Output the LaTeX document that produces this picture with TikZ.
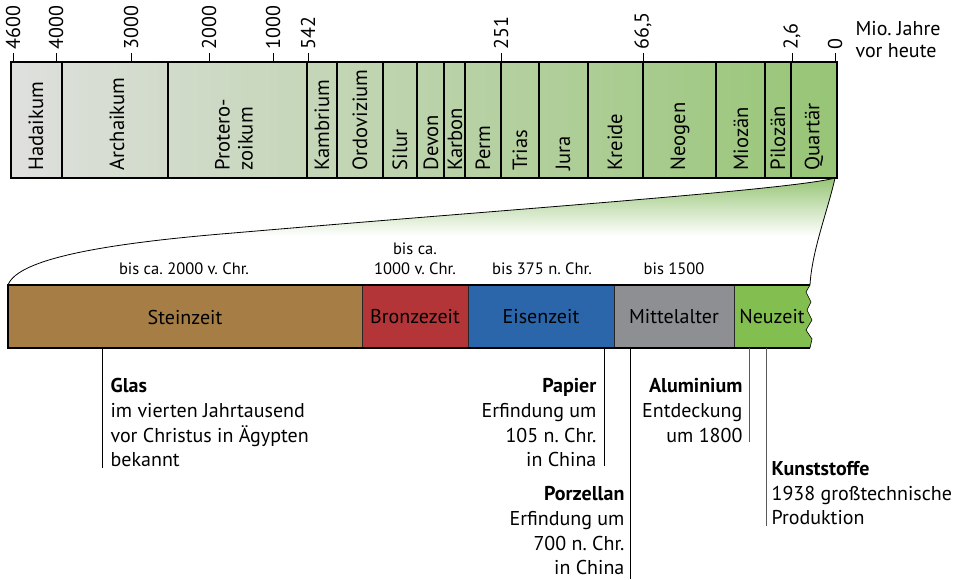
\documentclass[tikz,border=0pt]{standalone}
\usepackage{fontspec}
\setmainfont{PT Sans}
\usepackage{xcolor}
\usepackage{tikz}
\frenchspacing

\definecolor{erdgrau}{HTML}{DFE0DE}
\definecolor{erdmitte}{HTML}{C3DAB4}
\definecolor{erdgruen}{HTML}{97C576}
\definecolor{steinbraun}{HTML}{A67E45}
\definecolor{bronzerot}{HTML}{B33538}
\definecolor{eisenblau}{HTML}{2A66A9}
\definecolor{mittelgrau}{HTML}{8E8F92}
\definecolor{neugruen}{HTML}{82BE50}
\definecolor{strichgrau}{HTML}{5A5A5A}

\tikzset{
  zahl/.style={rotate=90, anchor=west, inner sep=0pt, font=\fontsize{20}{22}\selectfont},
  epoche/.style={rotate=90, anchor=west, inner sep=0pt, align=left, font=\fontsize{20.6}{23}\selectfont},
  zeitraum/.style={inner sep=0pt, font=\fontsize{20}{22}\selectfont},
  bis/.style={inner sep=0pt, align=center, font=\fontsize{16.5}{20}\selectfont},
  notizlinks/.style={anchor=north west, inner sep=0pt, align=left, font=\fontsize{20}{24.6}\selectfont},
  notizrechts/.style={anchor=north east, inner sep=0pt, align=right, font=\fontsize{20}{24.6}\selectfont}
}

\begin{document}
\begin{tikzpicture}[x=1pt, y=-1pt, line width=1.2pt]
    \useasboundingbox (0,0) rectangle (959,579);

    % Trichter (Ausschnitt Quartaer)
    \begin{scope}
        \clip (8,285) .. controls (18,258) and (110,243) .. (233,233)
            .. controls (500,210) and (790,190) .. (835,178)
            .. controls (828,210) and (812,250) .. (810,285) -- cycle;
        \shade[top color=erdgruen, bottom color=white] (0,178) rectangle (840,236);
    \end{scope}
    \draw[line width=0.8pt] (8,285) .. controls (18,258) and (110,243) .. (233,233)
        .. controls (500,210) and (790,190) .. (835,178)
        .. controls (828,210) and (812,250) .. (810,285);

    % Erdzeitalter (oberer Balken)
    \shade[left color=erdgrau, middle color=erdmitte, right color=erdgruen] (11,62) rectangle (837,178);
    \foreach \x in {62,168,307,337,383,417,444,465,501,539,588,643,716,765,791}
    {
        \draw (\x,62) -- (\x,178);
    }
    \draw (11,62) rectangle (837,178);

    % Skala in Mio. Jahren
    \foreach \x/\label [count=\i] in {
        13/4600,
        56/4000,
        131/3000,
        209/2000,
        273/1000,
        308/542,
        501/251,
        643/{66,5},
        792/{2,6},
        835/0
    }
    {
        \draw[line width=0.8pt] (\x,53) -- (\x,62);
        \node[zahl] (skala\i) at (\x,50) {\label};
    }
    \node[anchor=west, inner sep=0pt, align=left, font=\fontsize{20}{22}\selectfont] (einheit) at (855,40) {Mio. Jahre\\vor heute};

    % Namen der Erdzeitalter
    \foreach \x/\name [count=\i] in {
        36/Hadaikum,
        117/Archaikum,
        234/{Protero-\\zoikum},
        322/Kambrium,
        360/Ordovizium,
        400/Silur,
        431/Devon,
        455/Karbon,
        483/Perm,
        520/Trias,
        563/Jura,
        615/Kreide,
        680/Neogen,
        741/Miozän,
        778/Pilozän,
        814/Quartär
    }
    {
        \node[epoche] (epoche\i) at (\x,171) {\name};
    }

    % Menschheitsgeschichte (unterer Balken)
    \foreach \xa/\xb/\farbe/\name in {
        8/362/steinbraun/Steinzeit,
        362/468/bronzerot/Bronzezeit,
        468/614/eisenblau/Eisenzeit,
        614/734/mittelgrau/Mittelalter
    }
    {
        \fill[\farbe] (\xa,285) rectangle (\xb,348);
        \node[zeitraum] (\name) at ({(\xa+\xb)/2},317) {\name};
    }
    \fill[neugruen] (734,285) -- (810,285) -- (806,292) -- (811,302) -- (807,310)
        -- (812,320) -- (806,330) -- (812,339) -- (810,348) -- (734,348) -- cycle;
    \node[zeitraum] (Neuzeit) at (772,317) {Neuzeit};
    \foreach \x in {362,468,614,734}
    {
        \draw[line width=1pt, black!85] (\x,285) -- (\x,348);
    }
    \draw (810,285) -- (8,285) -- (8,348) -- (810,348);
    \draw[line width=0.6pt] (810,285) -- (806,292) -- (811,302) -- (807,310)
        -- (812,320) -- (806,330) -- (812,339) -- (810,348);

    % Zeitangaben ueber dem Balken
    \node[bis] (bis1) at (184,269) {bis ca. 2000 v. Chr.};
    \node[bis] (bis2) at (415,259) {bis ca.\\1000 v. Chr.};
    \node[bis] (bis3) at (542,269) {bis 375 n. Chr.};
    \node[bis] (bis4) at (674,269) {bis 1500};

    % Erfindungen und Entdeckungen
    \coordinate (glasA) at (102,348);
    \coordinate (glasB) at (102,468);
    \coordinate (papierA) at (604,348);
    \coordinate (papierB) at (604,466);
    \coordinate (porzellanA) at (630,348);
    \coordinate (porzellanB) at (630,579);
    \coordinate (aluA) at (749,348);
    \coordinate (aluB) at (749,442);
    \coordinate (kunstA) at (766,348);
    \coordinate (kunstB) at (766,526);

    \draw[line width=1pt] (glasA) -- (glasB);
    \draw[line width=1pt] (papierA) -- (papierB);
    \draw[line width=1pt] (porzellanA) -- (porzellanB);
    \draw[line width=1pt, strichgrau] (aluA) -- (aluB);
    \draw[line width=1pt, strichgrau] (kunstA) -- (kunstB);

    \node[notizlinks] (glas) at (110,378) {\textbf{Glas}\\im vierten Jahrtausend\\vor Christus in Ägypten\\bekannt};
    \node[notizrechts] (papier) at (597,378) {\textbf{Papier}\\Erfindung um~\\105 n. Chr.\\in China};
    \node[notizrechts] (porzellan) at (625,486) {\textbf{Porzellan}\\Erfindung um~\\700 n. Chr.\\in China};
    \node[notizrechts] (alu) at (743,378) {\textbf{Aluminium}\\Entdeckung~\\um 1800};
    \node[notizlinks] (kunst) at (771,461) {\textbf{Kunststoffe}\\1938 großtechnische\\Produktion};

\end{tikzpicture}
\end{document}
